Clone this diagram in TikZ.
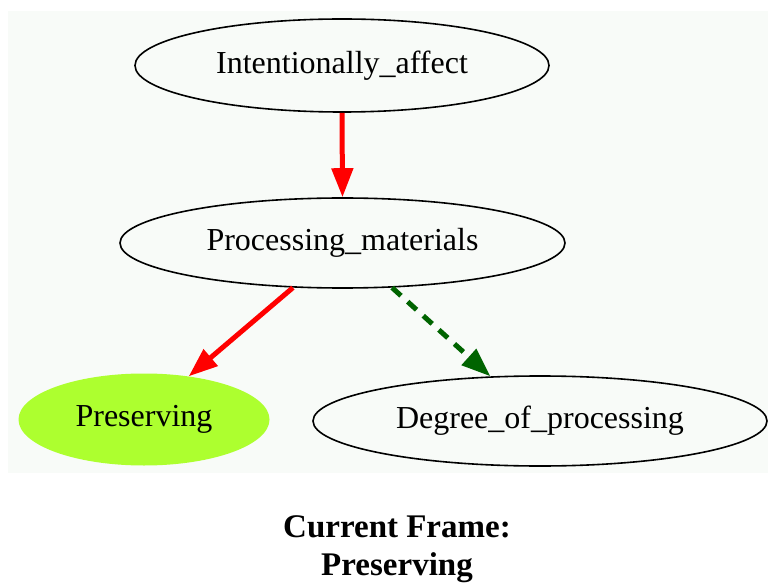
\documentclass[tikz,border=0pt]{standalone}
\usepackage{fontspec}
\setmainfont{Liberation Serif}
\usetikzlibrary{arrows.meta,shapes.geometric}

\definecolor{canvasbg}{RGB}{248,251,248}
\definecolor{framegreen}{RGB}{173,255,47}
\definecolor{softgreen}{RGB}{0,100,0}

\tikzset{
  frame/.style={ellipse, draw=black, line width=1.6pt, inner sep=0pt,
    font=\fontsize{32}{38}\selectfont},
  current/.style={ellipse, fill=framegreen, draw=none, inner sep=0pt,
    font=\fontsize{32}{38}\selectfont},
  inherits/.style={draw=red, line width=5pt,
    -{Triangle[length=29pt,width=21pt]}},
  uses/.style={draw=softgreen, line width=5pt, dash pattern=on 12pt off 9pt,
    -{Triangle[length=29pt,width=21pt]}},
  caption/.style={align=center, inner sep=0pt,
    font=\fontsize{33}{38}\selectfont\bfseries}
}

\begin{document}
\begin{tikzpicture}[x=1pt,y=-1pt]
  \useasboundingbox (0,0) rectangle (768,585);
  \fill[white] (0,0) rectangle (768,585);
  \fill[canvasbg] (8,11) rectangle (768,473);

  % frames
  \node[frame, minimum width=414pt, minimum height=93pt] (ia) at (342,65.5) {Intentionally\_affect};
  \node[frame, minimum width=445pt, minimum height=90pt] (pm) at (342.5,243) {Processing\_materials};
  \node[current, minimum width=251pt, minimum height=92pt] (pres) at (144,419.5) {Preserving};
  \node[frame, minimum width=454pt, minimum height=90pt] (deg) at (540,421) {Degree\_of\_processing};

  % relations
  \draw[inherits] (ia.south) -- (pm.north);
  \draw[inherits] (pm.-138) -- (pres.44);
  \draw[uses] (pm.-42) -- (deg.138);

  % caption
  \node[caption] (title) at (397,549) {Current Frame:\\Preserving};
\end{tikzpicture}
\end{document}
